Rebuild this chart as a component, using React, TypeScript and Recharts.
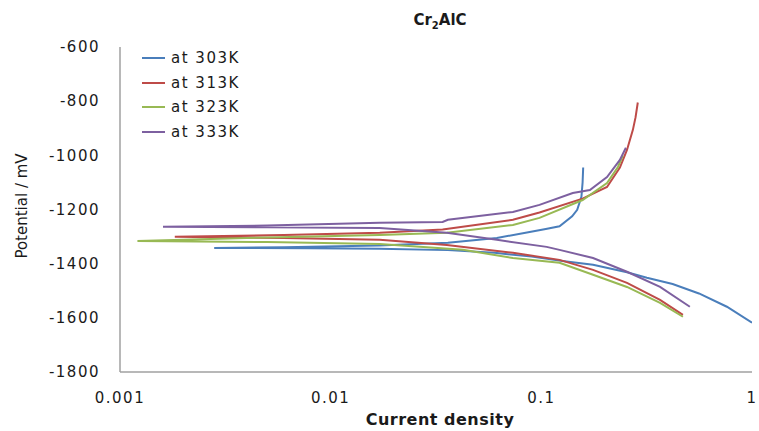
import React from "react";
import { LineChart, Line, XAxis, YAxis, Legend } from "recharts";

// polarisation curves: cathodic branch (high current -> Ecorr) then anodic branch
const current303 = [1.0, 0.76, 0.56, 0.42, 0.317, 0.255, 0.176, 0.126, 0.09, 0.06, 0.036, 0.017, 0.008, 0.0028, 0.006, 0.017, 0.036, 0.0615, 0.088, 0.105, 0.122, 0.14, 0.148, 0.155, 0.157, 0.158];
const potential303 = [-1618, -1559, -1510, -1475, -1452, -1432, -1404, -1390, -1374, -1360, -1350, -1345, -1343, -1342, -1339, -1333, -1323, -1305, -1283, -1272, -1262, -1225, -1201, -1153, -1100, -1045];

const current313 = [0.47, 0.366, 0.255, 0.176, 0.122, 0.0733, 0.0356, 0.0171, 0.006, 0.00182, 0.006, 0.0171, 0.034, 0.0733, 0.098, 0.157, 0.205, 0.236, 0.255, 0.272, 0.28, 0.287];
const potential313 = [-1589, -1534, -1471, -1423, -1386, -1360, -1331, -1312, -1305, -1301, -1294, -1286, -1274, -1238, -1211, -1160, -1117, -1045, -980, -906, -860, -805];

const current323 = [0.47, 0.366, 0.255, 0.176, 0.122, 0.0733, 0.0425, 0.0171, 0.005, 0.00121, 0.005, 0.0171, 0.0356, 0.0733, 0.098, 0.157, 0.205, 0.231, 0.244];
const potential323 = [-1596, -1545, -1486, -1441, -1397, -1379, -1349, -1327, -1320, -1316, -1303, -1294, -1286, -1257, -1231, -1165, -1102, -1043, -1000];

const current333 = [0.507, 0.366, 0.255, 0.176, 0.122, 0.106, 0.0615, 0.0356, 0.0171, 0.005, 0.0016, 0.005, 0.0171, 0.034, 0.036, 0.0733, 0.098, 0.141, 0.17, 0.205, 0.236, 0.252];
const potential333 = [-1559, -1486, -1430, -1379, -1349, -1338, -1312, -1286, -1268, -1266, -1264, -1259, -1249, -1246, -1238, -1209, -1183, -1139, -1128, -1080, -1017, -972];

const xTicks = [0.001, 0.01, 0.1, 1];
const xTickLabels = ["0.001", "0.01", "0.1", "1"];
const yTicks = [-1800, -1600, -1400, -1200, -1000, -800, -600];

const toPoints = (xs: number[], ys: number[]) => xs.map((x, i) => ({ x, y: ys[i] }));

const series = [
  { name: "at 303K", color: "#4a7ebb", data: toPoints(current303, potential303) },
  { name: "at 313K", color: "#be4b48", data: toPoints(current313, potential313) },
  { name: "at 323K", color: "#98b954", data: toPoints(current323, potential323) },
  { name: "at 333K", color: "#7d60a0", data: toPoints(current333, potential333) },
];

const font = "'DejaVu Sans', Verdana, sans-serif";
const tickStyle = { fontSize: 15, fill: "#1a1a1a", fontFamily: font, letterSpacing: 1.5 };

function LegendBox() {
  return (
    <div style={{ fontFamily: font, fontSize: 15, color: "#1a1a1a", letterSpacing: 1.5 }}>
      {series.map((s) => (
        <div key={s.name} style={{ height: 24.5, display: "flex", alignItems: "center" }}>
          <span style={{ width: 23, height: 2, background: s.color, marginRight: 6 }} />
          <span>{s.name}</span>
        </div>
      ))}
    </div>
  );
}

export default function App() {
  return (
    <div style={{ position: "absolute", left: 0, top: 0, width: 759, height: 431, background: "#fff" }}>
      <LineChart width={759} height={431} margin={{ top: 47, right: 7, bottom: 29, left: 0 }}>
        <XAxis
          type="number"
          dataKey="x"
          scale="log"
          domain={[0.001, 1]}
          ticks={xTicks}
          allowDataOverflow
          tickFormatter={(v) => xTickLabels[xTicks.indexOf(v)] ?? String(v)}
          height={30}
          tick={tickStyle}
          tickSize={0}
          tickMargin={20}
          axisLine={{ stroke: "#a0a0a0", strokeWidth: 1.5 }}
        />
        <YAxis
          type="number"
          dataKey="y"
          domain={[-1800, -600]}
          ticks={yTicks}
          width={120}
          tick={tickStyle}
          tickSize={0}
          tickMargin={20}
          axisLine={{ stroke: "#a0a0a0", strokeWidth: 1.5 }}
        />
        <Legend
          layout="vertical"
          align="center"
          verticalAlign="middle"
          wrapperStyle={{ top: 46, left: 142, width: "auto", height: "auto" }}
          content={() => <LegendBox />}
        />
        {series.map((s) => (
          <Line
            key={s.name}
            name={s.name}
            data={s.data}
            dataKey="y"
            stroke={s.color}
            strokeWidth={2}
            dot={false}
            activeDot={false}
            isAnimationActive={false}
            type="linear"
          />
        ))}
      </LineChart>
      <div
        style={{
          position: "absolute",
          left: 0,
          width: 880,
          top: 11,
          textAlign: "center",
          fontFamily: font,
          fontWeight: "bold",
          fontSize: 15,
          color: "#1a1a1a",
        }}
      >
        Cr<sub style={{ fontSize: 10 }}>2</sub>AlC
      </div>
      <div
        style={{
          position: "absolute",
          left: 22,
          top: 206,
          transform: "translate(-50%, -50%) rotate(-90deg)",
          whiteSpace: "nowrap",
          fontFamily: font,
          fontSize: 15,
          color: "#1a1a1a",
        }}
      >
        Potential / mV
      </div>
      <div
        style={{
          position: "absolute",
          left: 0,
          width: 880,
          top: 410,
          lineHeight: "19px",
          textAlign: "center",
          fontFamily: font,
          fontWeight: "bold",
          fontSize: 16,
          color: "#1a1a1a",
          letterSpacing: 0.5,
        }}
      >
        Current density
      </div>
    </div>
  );
}
